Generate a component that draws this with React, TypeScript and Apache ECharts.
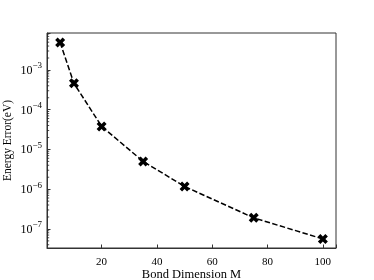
import React, { useEffect, useRef } from "react";
import * as echarts from "echarts";

const bondDims = [5, 10, 20, 35, 50, 75, 100];
const energyErrors = [4.9e-3, 4.6e-4, 3.8e-5, 5.0e-6, 1.17e-6, 1.9e-7, 5.6e-8];
const xTickLabels = [20, 40, 60, 80, 100];
const yDecades = [-7, -6, -5, -4, -3];
const minorMultipliers = [2, 3, 4, 5, 6, 7, 8, 9];

const X_MIN = 0.25;
const X_MAX = 104.75;
const Y_MIN = Math.pow(10, -7.48);
const Y_MAX = Math.pow(10, -2.07);

const FONT = "Liberation Serif";
const AXIS_COLOR = "#333";

const xMarker = "path://M1,0 L2,1 L3,0 L4,1 L3,2 L4,3 L3,4 L2,3 L1,4 L0,3 L1,2 L0,1 Z";

export default function App() {
  const ref = useRef<HTMLDivElement>(null);
  useEffect(() => {
    if (!ref.current) return;
    const chart = echarts.init(ref.current, undefined, { renderer: "svg" });
    const minorTicks: number[] = [];
    [-8, ...yDecades].forEach((d) => {
      minorMultipliers.forEach((m) => {
        const v = m * Math.pow(10, d);
        if (v > Y_MIN && v < Y_MAX) minorTicks.push(v);
      });
    });
    chart.setOption({
      animation: false,
      grid: {
        left: 47,
        right: 38,
        top: 33,
        bottom: 32,
        containLabel: false,
        outerBoundsMode: "none",
        show: true,
        borderColor: AXIS_COLOR,
        borderWidth: 1,
        backgroundColor: "transparent",
      },
      xAxis: {
        type: "value",
        min: X_MIN,
        max: X_MAX,
        name: "Bond Dimension M",
        nameLocation: "middle",
        nameGap: 19,
        nameMoveOverlap: false,
        nameTextStyle: { fontFamily: FONT, fontSize: 12.5, color: "#000", lineHeight: 13 },
        axisLine: { lineStyle: { color: AXIS_COLOR, width: 1 } },
        axisTick: { inside: true, length: 3.5, lineStyle: { color: AXIS_COLOR } },
        splitLine: { show: false },
        axisLabel: {
          margin: 7,
          fontFamily: FONT,
          fontSize: 11,
          lineHeight: 11,
          color: "#000",
          formatter: (v: number) => (xTickLabels.includes(Math.round(v)) && Math.abs(v - Math.round(v)) < 1e-6 ? String(Math.round(v)) : ""),
        },
      },
      yAxis: {
        type: "log",
        logBase: 10,
        min: Y_MIN,
        max: Y_MAX,
        name: "Energy Error(eV)",
        nameLocation: "middle",
        nameGap: 34,
        nameMoveOverlap: false,
        nameTextStyle: { fontFamily: FONT, fontSize: 11.5, color: "#000" },
        axisLine: { show: true, lineStyle: { color: AXIS_COLOR, width: 1 } },
        axisTick: { inside: true, length: 3.5, lineStyle: { color: AXIS_COLOR } },
        splitLine: { show: false },
        axisLabel: {
          margin: 5,
          color: "#000",
          formatter: (v: number) => {
            const l = Math.log10(v);
            const e = Math.round(l);
            if (Math.abs(l - e) > 1e-6 || !yDecades.includes(e)) return "";
            return `{b|10}{s|\u2212${-e}}`;
          },
          rich: {
            b: { fontFamily: FONT, fontSize: 12, color: "#000" },
            s: { fontFamily: FONT, fontSize: 9, color: "#000", padding: [0, 0, 9, 0] },
          },
        },
      },
      series: [
        {
          type: "line",
          data: bondDims.map((m, i) => [m, energyErrors[i]]),
          lineStyle: { color: "#000", width: 1.5, type: [5.5, 2.4] },
          symbol: xMarker,
          symbolSize: 10,
          itemStyle: { color: "#000" },
          z: 3,
        },
        {
          type: "scatter",
          silent: true,
          data: minorTicks.map((v) => [X_MIN, v]),
          symbol: "rect",
          symbolSize: [2.2, 1],
          symbolOffset: [1.1, 0],
          itemStyle: { color: "#222" },
          z: 2,
        },
      ],
    });
    return () => chart.dispose();
  }, []);
  return <div ref={ref} style={{ position: "fixed", left: 0, top: 0, width: 374, height: 280 }} />;
}
